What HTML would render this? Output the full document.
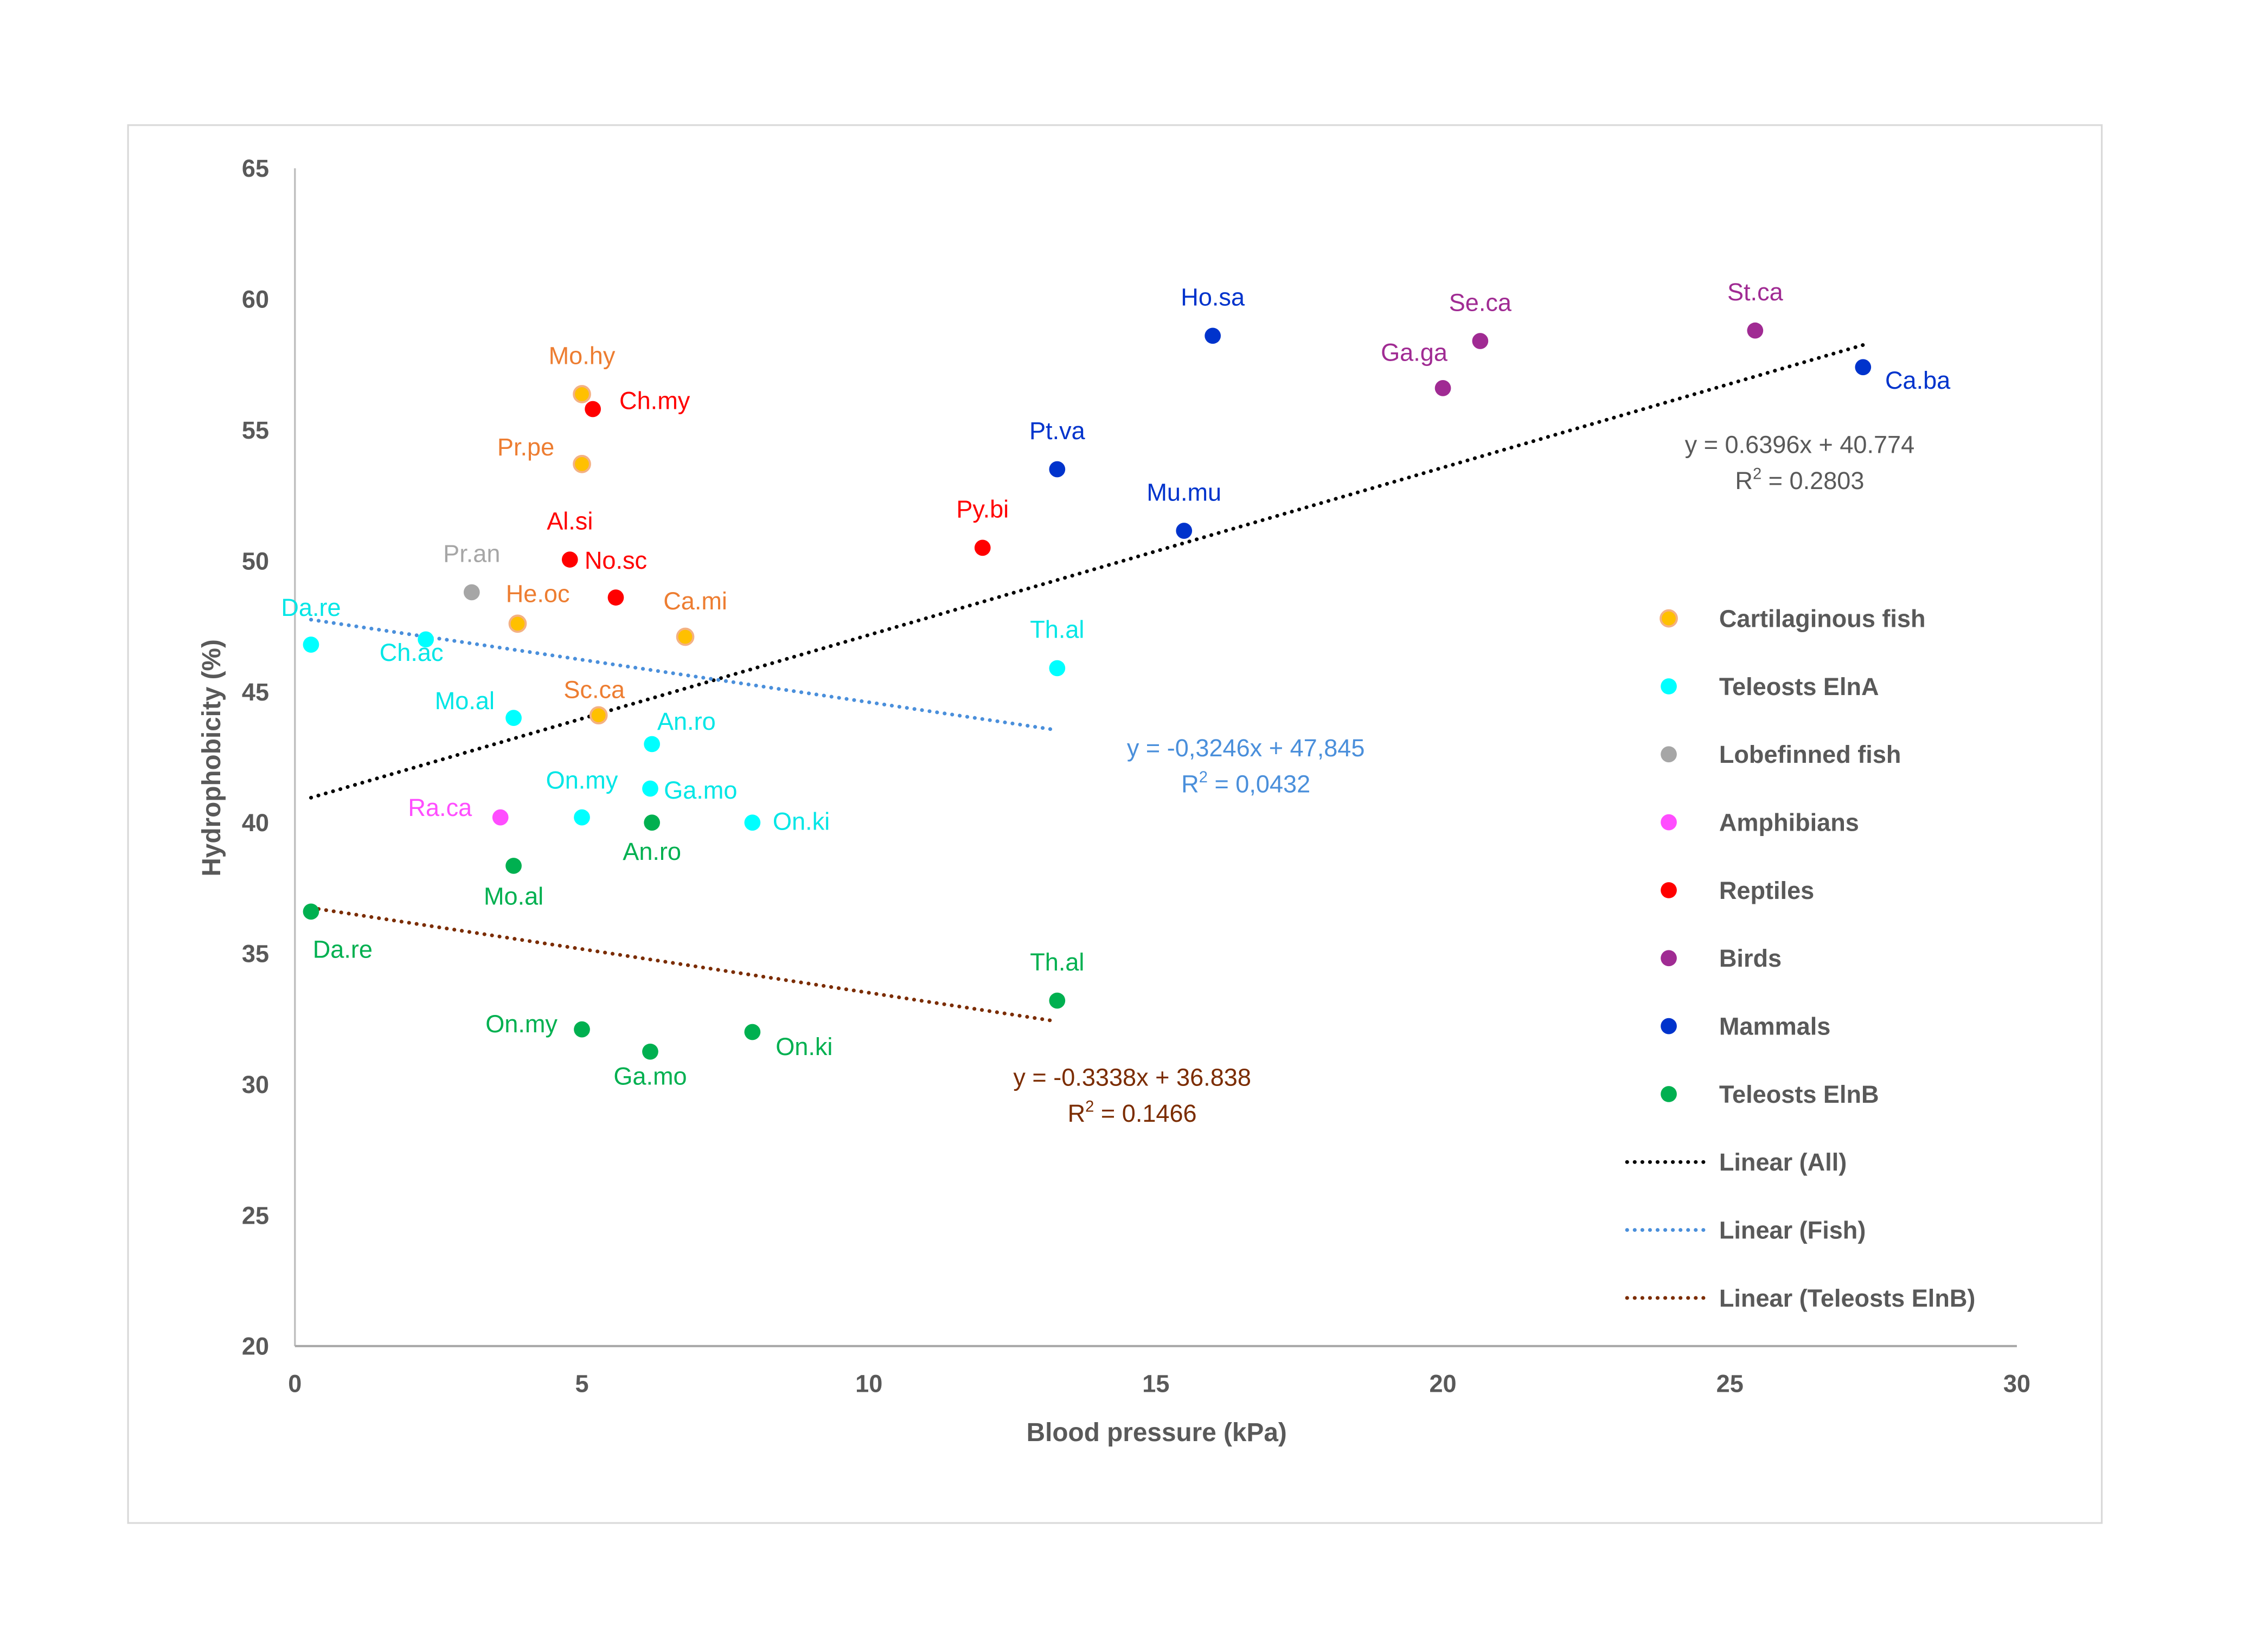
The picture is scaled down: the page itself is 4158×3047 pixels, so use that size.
<!DOCTYPE html>
<html><head><meta charset="utf-8"><style>html,body{margin:0;padding:0;background:#fff}svg{display:block}text{font-family:"Liberation Sans",sans-serif}</style></head>
<body>
<svg id="chart" width="4158" height="3047" viewBox="0 0 1567.5 1148.7" xmlns="http://www.w3.org/2000/svg">
<rect x="89" y="87" width="1372" height="972" fill="#fff" stroke="#d9d9d9" stroke-width="1.2"/>
<g id="axes"></g><g id="trends"></g><g id="points"></g><g id="legend"></g>
</svg>
<script>
const xTicks=[0,5,10,15,20,25,30];
const yTicks=[20,25,30,35,40,45,50,55,60,65];
const seriesNames=["Cartilaginous fish","Teleosts ElnA","Lobefinned fish","Amphibians","Reptiles","Birds","Mammals","Teleosts ElnB"];
const cartLabels=["Mo.hy","Pr.pe","He.oc","Ca.mi","Sc.ca"];
const cartX=[5.0,5.0,3.88,6.8,5.29];
const cartY=[56.37,53.7,47.6,47.1,44.1];
const elnALabels=["Da.re","Ch.ac","Mo.al","An.ro","On.my","Ga.mo","On.ki","Th.al"];
const elnAX=[0.28,2.28,3.81,6.22,5.0,6.19,7.97,13.28];
const elnAY=[46.8,47.0,44.0,43.0,40.2,41.3,40.0,45.9];
const lobeLabels=["Pr.an"];const lobeX=[3.08];const lobeY=[48.8];
const amphLabels=["Ra.ca"];const amphX=[3.58];const amphY=[40.2];
const reptLabels=["Ch.my","Al.si","No.sc","Py.bi"];
const reptX=[5.19,4.79,5.59,11.98];
const reptY=[55.8,50.05,48.6,50.5];
const birdLabels=["Se.ca","Ga.ga","St.ca"];
const birdX=[20.65,20.0,25.44];const birdY=[58.4,56.6,58.8];
const mammLabels=["Ho.sa","Pt.va","Mu.mu","Ca.ba"];
const mammX=[15.99,13.28,15.49,27.32];const mammY=[58.6,53.5,51.15,57.4];
const elnBLabels=["Da.re","Mo.al","An.ro","On.my","Ga.mo","On.ki","Th.al"];
const elnBX=[0.28,3.81,6.22,5.0,6.19,7.97,13.28];
const elnBY=[36.6,38.35,40.0,32.1,31.25,32.0,33.2];
const trendAll=[0.6396,40.774,0.28,27.32];
const trendFish=[-0.3246,47.845,0.28,13.28];
const trendB=[-0.3338,36.838,0.28,13.28];

const NS="http://www.w3.org/2000/svg";
const X0=205,X1=1402,Y0=936,Y1=117;
const sx=v=>X0+(v-0)/30*(X1-X0);
const sy=v=>Y0-(v-20)/45*(Y0-Y1);
function mk(tag,attrs,parent,txt){const e=document.createElementNS(NS,tag);for(const k in attrs)e.setAttribute(k,attrs[k]);if(txt!==undefined)e.textContent=txt;parent.appendChild(e);return e;}
const axes=document.getElementById('axes');
let l=mk('line',{x1:X0,y1:Y1,x2:X0,y2:Y0,stroke:'#bfbfbf','stroke-width':1.3},axes);

l=mk('line',{x1:X0,y1:Y0,x2:X1,y2:Y0,stroke:'#a6a6a6','stroke-width':1.5},axes);

xTicks.forEach(v=>{const t=mk('text',{x:sx(v),y:Y0+32,'text-anchor':'middle','font-size':17,'font-weight':'bold',fill:'#595959'},axes,v);
});
yTicks.forEach(v=>{const t=mk('text',{x:X0-18,y:sy(v)+6,'text-anchor':'end','font-size':17,'font-weight':'bold',fill:'#595959'},axes,v);
});
let t=mk('text',{x:804,y:1002,'text-anchor':'middle','font-size':18,'font-weight':'bold',fill:'#595959'},axes,'Blood pressure (kPa)');

t=mk('text',{x:0,y:0,transform:'translate(153,527) rotate(-90)','text-anchor':'middle','font-size':18,'font-weight':'bold',fill:'#595959'},axes,'Hydrophobicity (%)');


const trends=document.getElementById('trends');
function trend(p,color,tcolor,name,eq,r2,ex,ey){
 const ln=mk('line',{x1:sx(p[2]),y1:sy(p[0]*p[2]+p[1]),x2:sx(p[3]),y2:sy(p[0]*p[3]+p[1]),stroke:color,'stroke-width':2.6,'stroke-dasharray':'0.1 5.2','stroke-linecap':'round'},trends);
 
 const e=mk('text',{x:ex,y:ey,'text-anchor':'middle','font-size':17,fill:tcolor},trends,eq);
 
 const r=mk('text',{x:ex,y:ey+25,'text-anchor':'middle','font-size':17,fill:tcolor},trends);
 
 r.innerHTML='R<tspan dy="-7" font-size="11">2</tspan><tspan dy="7"> = '+r2+'</tspan>';
}
trend(trendAll,'#000','#595959','trendline-all','y = 0.6396x + 40.774','0.2803',1251,315);
trend(trendFish,'#4a8fdb','#4a8fdb','trendline-fish','y = -0,3246x + 47,845','0,0432',866,526);
trend(trendB,'#7b2c00','#7b2c00','trendline-teleosts-elnb','y = -0.3338x + 36.838','0.1466',787,755);

const pts=document.getElementById('points');
const groups=[
 {labels:cartLabels,xs:cartX,ys:cartY,fill:'#ffc000',stroke:'#f4b183',tc:'#ed7d31',off:[[0,-22],[-39,-7],[14,-16],[7,-20],[-3,-13]]},
 {labels:elnALabels,xs:elnAX,ys:elnAY,fill:'#00ffff',stroke:'none',tc:'#00e6e6',off:[[0,-21],[-10,14],[-34,-7],[24,-11],[0,-21],[35,6],[34,4],[0,-22]]},
 {labels:lobeLabels,xs:lobeX,ys:lobeY,fill:'#a6a6a6',stroke:'none',tc:'#a6a6a6',off:[[0,-22]]},
 {labels:amphLabels,xs:amphX,ys:amphY,fill:'#ff4dff',stroke:'none',tc:'#ff4dff',off:[[-42,-2]]},
 {labels:reptLabels,xs:reptX,ys:reptY,fill:'#ff0000',stroke:'none',tc:'#ff0000',off:[[43,-1],[0,-22],[0,-21],[0,-22]]},
 {labels:birdLabels,xs:birdX,ys:birdY,fill:'#a02b93',stroke:'none',tc:'#a02b93',off:[[0,-22],[-20,-20],[0,-22]]},
 {labels:mammLabels,xs:mammX,ys:mammY,fill:'#0033cc',stroke:'none',tc:'#0033cc',off:[[0,-22],[0,-22],[0,-22],[38,14]]},
 {labels:elnBLabels,xs:elnBX,ys:elnBY,fill:'#00b050',stroke:'none',tc:'#00b050',off:[[22,31],[0,26],[0,25],[-42,1],[0,22],[36,15],[0,-22]]}
];
groups.forEach((g,gi)=>{g.xs.forEach((xv,i)=>{
 const c=mk('circle',{cx:sx(xv),cy:sy(g.ys[i]),r:5.6,fill:g.fill,stroke:g.stroke,'stroke-width':1.5},pts);
 
 
 const o=g.off[i]||[0,-22];
 const tx=mk('text',{x:sx(xv)+o[0],y:sy(g.ys[i])+o[1]+1,'text-anchor':'middle','font-size':17,fill:g.tc},pts,g.labels[i]);
 
 
});});

const lg=document.getElementById('legend');
const legendColors=[['#ffc000','#f4b183'],['#00ffff','none'],['#a6a6a6','none'],['#ff4dff','none'],['#ff0000','none'],['#a02b93','none'],['#0033cc','none'],['#00b050','none']];
const lineNames=["Linear (All)","Linear (Fish)","Linear (Teleosts ElnB)"];
const lineColors=['#000','#4a8fdb','#7b2c00'];
seriesNames.forEach((n,i)=>{const y=430+i*47.25;
 const c=mk('circle',{cx:1160,cy:y,r:5.6,fill:legendColors[i][0],stroke:legendColors[i][1],'stroke-width':1.5},lg);
 
 const tx=mk('text',{x:1195,y:y+6,'font-size':17,'font-weight':'bold',fill:'#595959'},lg,n);
 
});
lineNames.forEach((n,i)=>{const y=430+(8+i)*47.25;
 const ln=mk('line',{x1:1131,y1:y,x2:1186,y2:y,stroke:lineColors[i],'stroke-width':2.6,'stroke-dasharray':'0.1 5.2','stroke-linecap':'round'},lg);
 
 const tx=mk('text',{x:1195,y:y+6,'font-size':17,'font-weight':'bold',fill:'#595959'},lg,n);
 
});
</script>
</body></html>
